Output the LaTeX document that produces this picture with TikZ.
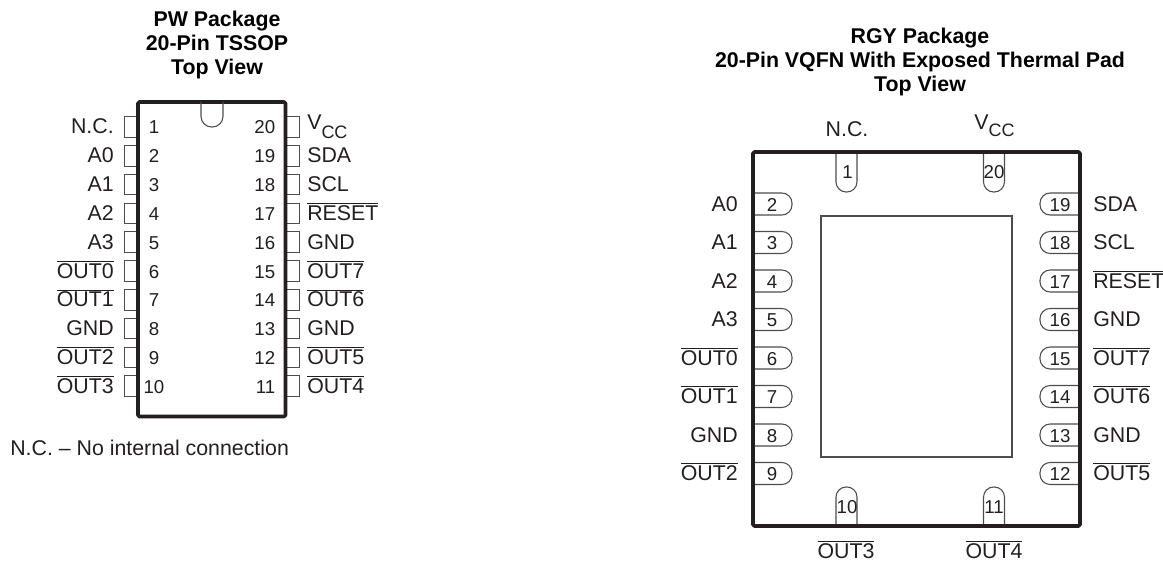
\documentclass[tikz,border=0pt]{standalone}
\usepackage{fontspec}
\setmainfont{Liberation Sans}
\definecolor{inkc}{HTML}{231F20}
\definecolor{pinc}{HTML}{4D4D4D}
\newcommand{\lblfont}{\fontsize{16}{18}\selectfont}
\newcommand{\numfont}{\fontsize{14}{16}\selectfont}
\newcommand{\bsig}[1]{$\overline{\hbox{#1}}$}
\newcommand{\vcc}[1]{V\raisebox{#1}{\fontsize{13.5}{16}\selectfont CC}}
\tikzset{
  lbl/.style={inner sep=0pt,text=inkc,font=\lblfont},
  lblleft/.style={lbl,anchor=base east},
  lblright/.style={lbl,anchor=base west},
  lblmid/.style={lbl,anchor=base},
  num/.style={inner sep=0pt,text=inkc,font=\numfont,anchor=base},
  numright/.style={num,anchor=base east},
  titlenode/.style={inner sep=0pt,text=black,font=\lblfont\bfseries,align=center,anchor=north},
  pinbox/.style={shape=rectangle,draw=pinc,line width=0.7pt,minimum width=10.5pt,minimum height=15.4pt,inner sep=0pt},
  pinround/.style={draw=pinc,line width=0.8pt,rounded corners=7.6pt},
  bodyline/.style={draw=inkc,line width=2.7pt,line join=round}
}
\begin{document}
\begin{tikzpicture}[x=0.75pt,y=-0.75pt]
  \useasboundingbox (0,0) rectangle (1163,563);
  \begin{scope}
    \node[titlenode] (pwtitle) at (217,10.5) {PW Package\\20-Pin TSSOP\\Top View};
    \node[pinbox] (p1) at (131,127) {};
    \node[pinbox] (p2) at (131,155.8) {};
    \node[pinbox] (p3) at (131,184.6) {};
    \node[pinbox] (p4) at (131,213.4) {};
    \node[pinbox] (p5) at (131,242.2) {};
    \node[pinbox] (p6) at (131,271) {};
    \node[pinbox] (p7) at (131,299.8) {};
    \node[pinbox] (p8) at (131,328.6) {};
    \node[pinbox] (p9) at (131,357.4) {};
    \node[pinbox] (p10) at (131,386.2) {};
    \node[pinbox] (p20) at (292.5,127) {};
    \node[pinbox] (p19) at (292.5,155.8) {};
    \node[pinbox] (p18) at (292.5,184.6) {};
    \node[pinbox] (p17) at (292.5,213.4) {};
    \node[pinbox] (p16) at (292.5,242.2) {};
    \node[pinbox] (p15) at (292.5,271) {};
    \node[pinbox] (p14) at (292.5,299.8) {};
    \node[pinbox] (p13) at (292.5,328.6) {};
    \node[pinbox] (p12) at (292.5,357.4) {};
    \node[pinbox] (p11) at (292.5,386.2) {};
    \draw[bodyline,fill=white,rounded corners=1pt] (138,102) rectangle (285.5,416.5);
    \draw[pinround,rounded corners=8pt] (201,102) -- (201,127) -- (223,127) -- (223,102);
    \node[num] (n1) at (154,134) {1};
    \node[num] (n2) at (154,163) {2};
    \node[num] (n3) at (154,191.6) {3};
    \node[num] (n4) at (154,220.4) {4};
    \node[num] (n5) at (154,249.2) {5};
    \node[num] (n6) at (154,278) {6};
    \node[num] (n7) at (154,306.8) {7};
    \node[num] (n8) at (154,335.6) {8};
    \node[num] (n9) at (154,364.4) {9};
    \node[num] (n10) at (154,393.2) {10};
    \node[numright] (n20) at (275.5,134) {20};
    \node[numright] (n19) at (275.5,163) {19};
    \node[numright] (n18) at (275.5,191.6) {18};
    \node[numright] (n17) at (275.5,220.4) {17};
    \node[numright] (n16) at (275.5,249.2) {16};
    \node[numright] (n15) at (275.5,278) {15};
    \node[numright] (n14) at (275.5,306.8) {14};
    \node[numright] (n13) at (275.5,335.6) {13};
    \node[numright] (n12) at (275.5,364.4) {12};
    \node[numright] (n11) at (275.5,393.2) {11};
    \node[lblleft] (nc) at (114,134) {N.C.};
    \node[lblleft] (a0) at (114,163) {A0};
    \node[lblleft] (a1) at (114,191.6) {A1};
    \node[lblleft] (a2) at (114,220.4) {A2};
    \node[lblleft] (a3) at (114,249.2) {A3};
    \node[lblleft] (out0) at (114,278) {\bsig{OUT0}};
    \node[lblleft] (out1) at (114,306.8) {\bsig{OUT1}};
    \node[lblleft] (gnda) at (114,335.6) {GND};
    \node[lblleft] (out2) at (114,364.4) {\bsig{OUT2}};
    \node[lblleft] (out3) at (114,393.2) {\bsig{OUT3}};
    \node[lblright] (vcc) at (307,130) {\vcc{-6.5pt}};
    \node[lblright] (sda) at (307,163) {SDA};
    \node[lblright] (scl) at (307,191.6) {SCL};
    \node[lblright] (reset) at (307,220.4) {\bsig{RESET}};
    \node[lblright] (gndb) at (307,249.2) {GND};
    \node[lblright] (out7) at (307,278) {\bsig{OUT7}};
    \node[lblright] (out6) at (307,306.8) {\bsig{OUT6}};
    \node[lblright] (gndc) at (307,335.6) {GND};
    \node[lblright] (out5) at (307,364.4) {\bsig{OUT5}};
    \node[lblright] (out4) at (307,393.2) {\bsig{OUT4}};
    \node[lblright] (note) at (10,455) {N.C. – No internal connection};
  \end{scope}
  \begin{scope}
    \node[titlenode] (rgytitle) at (920,28) {RGY Package\\20-Pin VQFN With Exposed Thermal Pad\\Top View};
    \draw[pinround] (753,193) -- (792,193) -- (792,215) -- (753,215);
    \draw[pinround] (753,231.5) -- (792,231.5) -- (792,253.5) -- (753,253.5);
    \draw[pinround] (753,270) -- (792,270) -- (792,292) -- (753,292);
    \draw[pinround] (753,308.5) -- (792,308.5) -- (792,330.5) -- (753,330.5);
    \draw[pinround] (753,347) -- (792,347) -- (792,369) -- (753,369);
    \draw[pinround] (753,385.5) -- (792,385.5) -- (792,407.5) -- (753,407.5);
    \draw[pinround] (753,424) -- (792,424) -- (792,446) -- (753,446);
    \draw[pinround] (753,462.5) -- (792,462.5) -- (792,484.5) -- (753,484.5);
    \draw[pinround] (1080,193) -- (1040,193) -- (1040,215) -- (1080,215);
    \draw[pinround] (1080,231.5) -- (1040,231.5) -- (1040,253.5) -- (1080,253.5);
    \draw[pinround] (1080,270) -- (1040,270) -- (1040,292) -- (1080,292);
    \draw[pinround] (1080,308.5) -- (1040,308.5) -- (1040,330.5) -- (1080,330.5);
    \draw[pinround] (1080,347) -- (1040,347) -- (1040,369) -- (1080,369);
    \draw[pinround] (1080,385.5) -- (1040,385.5) -- (1040,407.5) -- (1080,407.5);
    \draw[pinround] (1080,424) -- (1040,424) -- (1040,446) -- (1080,446);
    \draw[pinround] (1080,462.5) -- (1040,462.5) -- (1040,484.5) -- (1080,484.5);
    \draw[pinround] (836,152) -- (836,192) -- (857,192) -- (857,152);
    \draw[pinround] (983.5,152) -- (983.5,192) -- (1004.5,192) -- (1004.5,152);
    \draw[pinround] (836,526) -- (836,487) -- (857,487) -- (857,526);
    \draw[pinround] (983.5,526) -- (983.5,487) -- (1004.5,487) -- (1004.5,526);
    \draw[bodyline,rounded corners=1pt] (753,152) rectangle (1080,526);
    \draw[pinc,line width=0.8pt] (821,216) rectangle (1012,457);
    \node[num] (m1) at (847.5,179) {1};
    \node[num] (m2) at (772,211) {2};
    \node[num] (m3) at (772,249.5) {3};
    \node[num] (m4) at (772,288) {4};
    \node[num] (m5) at (772,326.5) {5};
    \node[num] (m6) at (772,365) {6};
    \node[num] (m7) at (772,403.5) {7};
    \node[num] (m8) at (772,442) {8};
    \node[num] (m9) at (772,480.5) {9};
    \node[num] (m10) at (847,513) {10};
    \node[num] (m11) at (994,513) {11};
    \node[num] (m12) at (1060,480.5) {12};
    \node[num] (m13) at (1060,442) {13};
    \node[num] (m14) at (1060,403.5) {14};
    \node[num] (m15) at (1060,365) {15};
    \node[num] (m16) at (1060,326.5) {16};
    \node[num] (m17) at (1060,288) {17};
    \node[num] (m18) at (1060,249.5) {18};
    \node[num] (m19) at (1060,211) {19};
    \node[num] (m20) at (994,179) {20};
    \node[lblmid] (rnc) at (847,137) {N.C.};
    \node[lblmid] (rvcc) at (994.5,129.5) {\vcc{-5.5pt}};
    \node[lblleft] (ra0) at (738,211) {A0};
    \node[lblleft] (ra1) at (738,249.5) {A1};
    \node[lblleft] (ra2) at (738,288) {A2};
    \node[lblleft] (ra3) at (738,326.5) {A3};
    \node[lblleft] (rout0) at (738,365) {\bsig{OUT0}};
    \node[lblleft] (rout1) at (738,403.5) {\bsig{OUT1}};
    \node[lblleft] (rgnda) at (738,442) {GND};
    \node[lblleft] (rout2) at (738,480.5) {\bsig{OUT2}};
    \node[lblmid] (rout3) at (846,558) {\bsig{OUT3}};
    \node[lblmid] (rout4) at (994,558) {\bsig{OUT4}};
    \node[lblright] (rsda) at (1093,211) {SDA};
    \node[lblright] (rscl) at (1093,249.5) {SCL};
    \node[lblright] (rreset) at (1093,288) {\bsig{RESET}};
    \node[lblright] (rgndb) at (1093,326.5) {GND};
    \node[lblright] (rout7) at (1093,365) {\bsig{OUT7}};
    \node[lblright] (rout6) at (1093,403.5) {\bsig{OUT6}};
    \node[lblright] (rgndc) at (1093,442) {GND};
    \node[lblright] (rout5) at (1093,480.5) {\bsig{OUT5}};
  \end{scope}
\end{tikzpicture}
\end{document}
